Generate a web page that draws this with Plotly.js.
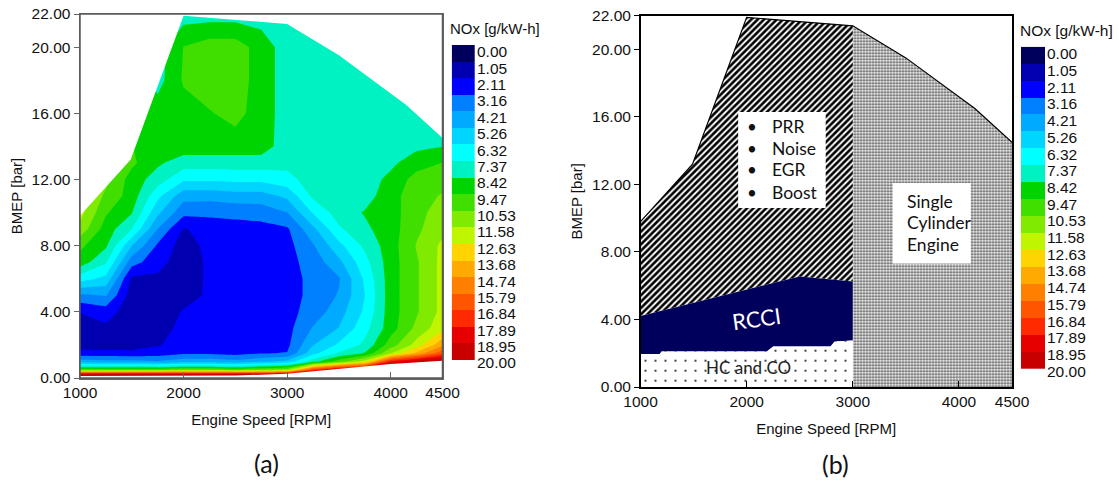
<!DOCTYPE html>
<html><head><meta charset="utf-8">
<script src="https://cdn.plot.ly/plotly-3.0.1.min.js"></script>
<style>html,body{margin:0;padding:0;background:#fff;}#chart{width:1119px;height:483px;}</style>
</head><body><div id="chart"></div>
<script>
// ---------------- data ----------------
const noxLevels = [0.00,1.05,2.11,3.16,4.21,5.26,6.32,7.37,8.42,9.47,10.53,11.58,12.63,13.68,14.74,15.79,16.84,17.89,18.95,20.00];
const bandColors = ['#00005C','#0000B0','#0000FF','#0080FF','#00AAFF','#00D5FF','#00FFFF','#00F2C2','#00D400','#40DF00','#80EA00','#C0F500','#FFD400','#FFAA00','#FF8000','#FF5500','#FF2A00','#E60000','#C80000'];

const rpmGrid  = [1000,1250,1500,1750,2000,2250,2500,2750,3000,3250,3500,3750,4000,4250,4500];
const bmepGrid = [0,0.25,0.5,1,1.5,2,3,4,5,6,7,8,9,10,11,12,13,14,16,18,20,22];
const noxGrid = [
  [24,24,24,24,24,24,24,24,24,24,24,24,24,24,24],
  [18.5,18.5,18.5,18.5,18.5,18.5,18.5,18.5,19,21,22,22,22,22,22],
  [10,10,10,10,10.5,10.5,10,10.5,11,17,19.5,20.5,21,21,21],
  [4.7,4.5,4.5,4.3,4.8,4.8,4.5,5.0,5.5,8.0,10,12,18,19.5,20.5],
  [2.5,2.5,2.4,2.6,3.0,3.0,2.8,3.1,3.2,6.0,7.5,8.5,11.5,14,16.5],
  [1.6,1.5,1.6,2.0,2.6,2.7,2.5,2.7,2.9,5.2,6.5,7.6,10.0,12,14.5],
  [1.5,1.9,1.5,1.5,2.5,2.6,2.5,2.6,2.8,4.3,5.3,7.0,9.0,10.8,12.3],
  [2.15,2.6,1.5,1.4,2.2,2.4,2.5,2.6,2.8,3.6,4.8,6.5,9.0,10.4,11.9],
  [4.0,4.3,1.6,1.5,1.6,2.3,2.5,2.6,2.8,3.4,4.3,6.3,9.0,10.4,11.9],
  [6.8,6.0,1.9,1.9,1.5,2.3,2.5,2.6,2.8,3.4,4.1,6.5,9.0,10.4,11.9],
  [9.0,7.5,3.6,2.5,1.5,2.3,2.5,2.6,2.8,3.6,5.0,7.0,9.0,10.4,11.9],
  [9.7,8.6,5.3,3.0,1.6,2.4,2.5,2.6,2.8,4.1,6.0,7.6,9.0,10.6,11.8],
  [11.2,9.0,7.4,4.2,2.0,2.6,2.7,2.8,3.0,5.0,7.2,8.2,9.0,10.3,11.3],
  [12,9.6,8.5,5.5,3.5,3.4,3.5,3.6,4.2,6.4,7.9,8.5,9.0,10.2,11.0],
  [12,10.3,9.0,6.6,4.6,4.6,4.8,4.8,5.5,7.6,7.9,8.0,9.0,10.2,10.6],
  [11.5,10.8,9.0,7.9,6.5,6.5,6.6,6.6,7.0,7.9,7.9,7.9,8.7,9.9,10.2],
  [11,10.5,9.7,8.6,7.9,7.9,7.9,7.9,7.7,7.9,7.9,7.9,8.2,9.0,9.5],
  [11,10.5,9.5,9.0,9.0,9.0,9.0,9.0,7.8,7.9,7.9,7.9,7.9,8.2,8.4],
  [11,11,9.5,9.0,9.0,9.4,9.8,9.0,7.9,7.9,7.9,7.9,7.9,7.9,7.9],
  [11,11,9.5,8.0,9.6,10.0,10.0,9.0,7.9,7.9,7.9,7.9,7.9,7.9,7.9],
  [11,11,9.5,7.9,9.5,10.0,10.0,9.0,7.9,7.9,7.9,7.9,7.9,7.9,7.9],
  [11,11,9.5,7.9,7.9,7.9,7.9,7.9,7.9,7.9,7.9,7.9,7.9,7.9,7.9]
];

// full-load envelope and minimum-load boundary
const envRpm  = [1000,1490,2000,3000,3500,4150,4500];
const envBmep = [9.8,13.2,21.9,21.4,19.5,16.5,14.5];
const minLoadRpm  = [1000,2000,2500,3000,3500,4000,4500];
const minLoadBmep = [0.12,0.12,0.15,0.25,0.55,0.85,1.05];

// panel (b) region boundaries
const rcciUpperRpm  = [1000,2500,3000];
const rcciUpperBmep = [4.2,6.55,6.25];
const rcciLowerRpm  = [1000,1180,1200,2190,2250,2790,2830,3000];
const rcciLowerBmep = [1.95,1.95,2.1,2.1,2.4,2.4,2.7,2.75];
const splitRpm = 3000;

const xTicks = [1000,2000,3000,4000,4500];
const yTicks = [0,4,8,12,16,20,22];
const limitItems = ['PRR','Noise','EGR','Boost'];
const engineLines = ['Single','Cylinder','Engine'];

// ---------------- helpers ----------------
const W = 1119, H = 483;
const px = v => v / W;
const py = v => 1 - v / H;
const rpmMin = 1000, rpmMax = 4500, bmepMin = 0, bmepMax = 22;
const nBands = bandColors.length;
const zMax = noxLevels[noxLevels.length - 1];
const cs = zMax / nBands;

const contourScale = [[0, bandColors[0]]];
bandColors.forEach((c, k) => contourScale.push([(k + 1) / (nBands + 1), c]));
contourScale.push([1, bandColors[nBands - 1]]);
const stepScale = [];
bandColors.forEach((c, k) => { stepScale.push([k / nBands, c]); stepScale.push([(k + 1) / nBands, c]); });

const tickFont = {family: 'Liberation Sans, Arial, sans-serif', size: 15.5, color: '#111'};
const titleFont = {family: 'Liberation Sans, Arial, sans-serif', size: 15, color: '#111'};
const calFont = (s, c) => ({family: 'Lato, Open Sans, sans-serif', size: s, color: c || '#111'});

const envLow = envRpm.map((r, i) => [r, envBmep[i]]).filter(p => p[0] <= splitRpm);
const envHigh = envRpm.map((r, i) => [r, envBmep[i]]).filter(p => p[0] >= splitRpm);

const traces = [];
// ---- panel (a)
traces.push({type: 'contour', x: rpmGrid, y: bmepGrid, z: noxGrid, xaxis: 'x', yaxis: 'y',
  autocontour: false, contours: {start: 0, end: zMax, size: cs, coloring: 'fill', showlines: false},
  line: {width: 0, smoothing: 0}, colorscale: contourScale, showscale: false, hoverinfo: 'skip'});
traces.push({type: 'scatter', mode: 'lines', x: envRpm, y: envBmep, xaxis: 'x', yaxis: 'y', line: {width: 0}, hoverinfo: 'skip'});
traces.push({type: 'scatter', mode: 'lines', x: envRpm, y: envRpm.map(() => bmepMax), xaxis: 'x', yaxis: 'y',
  fill: 'tonexty', fillcolor: '#ffffff', line: {width: 0}, hoverinfo: 'skip'});
traces.push({type: 'scatter', mode: 'lines', x: minLoadRpm, y: minLoadBmep, xaxis: 'x', yaxis: 'y', line: {width: 0}, hoverinfo: 'skip'});
traces.push({type: 'scatter', mode: 'lines', x: minLoadRpm, y: minLoadRpm.map(() => bmepMin), xaxis: 'x', yaxis: 'y',
  fill: 'tonexty', fillcolor: '#ffffff', line: {width: 0}, hoverinfo: 'skip'});

// ---- panel (b)
traces.push({type: 'scatter', mode: 'lines', xaxis: 'x2', yaxis: 'y2', hoverinfo: 'skip',
  x: [splitRpm, rpmMax].concat(envHigh.slice().reverse().map(p => p[0])),
  y: [bmepMin, bmepMin].concat(envHigh.slice().reverse().map(p => p[1])),
  fill: 'toself', line: {width: 0}, fillcolor: '#e0e0e0',
  fillpattern: {shape: '.', size: 3, solidity: 0.38, fgcolor: '#333333', bgcolor: '#f0f0f0'}});
traces.push({type: 'scatter', mode: 'lines', xaxis: 'x2', yaxis: 'y2', hoverinfo: 'skip',
  x: rcciUpperRpm.concat(envLow.slice().reverse().map(p => p[0])),
  y: rcciUpperBmep.concat(envLow.slice().reverse().map(p => p[1])),
  fill: 'toself', line: {width: 0}, fillcolor: '#777',
  fillpattern: {shape: '/', size: 4.5, solidity: 0.58, fgcolor: '#000000', bgcolor: '#ffffff'}});
traces.push({type: 'scatter', mode: 'lines', xaxis: 'x2', yaxis: 'y2', hoverinfo: 'skip',
  x: rcciLowerRpm.concat(rcciUpperRpm.slice().reverse()),
  y: rcciLowerBmep.concat(rcciUpperBmep.slice().reverse()),
  fill: 'toself', line: {width: 0}, fillcolor: bandColors[0]});
traces.push({type: 'scatter', mode: 'lines', xaxis: 'x2', yaxis: 'y2', hoverinfo: 'skip',
  x: [rpmMin, splitRpm].concat(rcciLowerRpm.slice().reverse()),
  y: [bmepMin, bmepMin].concat(rcciLowerBmep.slice().reverse()),
  fill: 'toself', line: {width: 0}, fillcolor: '#fff',
  fillpattern: {shape: '.', size: 10, solidity: 0.03, fgcolor: '#000000', bgcolor: '#ffffff'}});
traces.push({type: 'scatter', mode: 'lines', x: envRpm, y: envBmep, xaxis: 'x2', yaxis: 'y2',
  line: {color: '#000', width: 1.2}, hoverinfo: 'skip'});

// ---- legend bars
const bandIdx = bandColors.map((c, k) => k);
const bandMid = bandColors.map((c, k) => [noxLevels[k] + cs / 2]);
['3', '4'].forEach(n => {
  traces.push({type: 'heatmap', x: [0], y: bandIdx, z: bandMid, zmin: 0, zmax: zMax,
    colorscale: stepScale, showscale: false, xaxis: 'x' + n, yaxis: 'y' + n, hoverinfo: 'skip'});
});

// ---------------- layout ----------------
const labelStep = 0.987, labelOff = -0.08;
const legendAxis = (top, bandPx) => {
  const lo = -0.5, hi = 19.2;
  const bottom = top + (hi - lo) * bandPx;
  return {domain: [py(bottom), py(top)], range: [hi, lo], side: 'right', showgrid: false, zeroline: false,
    showline: false, ticks: '', tickvals: noxLevels.map((v, i) => labelOff + i * labelStep),
    ticktext: noxLevels.map(v => v.toFixed(2)), tickfont: tickFont, ticklabelstandoff: 1};
};
const xAx = (l, r, col, standoff) => ({domain: [px(l), px(r)], range: [rpmMin, rpmMax], tickvals: xTicks,
  ticktext: xTicks.map(String), ticks: 'inside', ticklen: 6, tickcolor: col, showline: true, mirror: true,
  linecolor: col, linewidth: 1.5, showgrid: false, zeroline: false, tickfont: tickFont,
  title: {text: 'Engine Speed [RPM]', font: titleFont, standoff: standoff}});
const yAx = (t, b, col, standoff) => ({domain: [py(b), py(t)], range: [bmepMin, bmepMax], tickvals: yTicks,
  ticktext: yTicks.map(v => v.toFixed(2)), ticks: 'outside', ticklen: 5, tickcolor: col, showline: true, mirror: true,
  linecolor: col, linewidth: 1.5, showgrid: false, zeroline: false, tickfont: tickFont,
  title: {text: 'BMEP [bar]', font: titleFont, standoff: standoff}});

const frameA = {l: 80, r: 442.5, t: 14, b: 378};
const layout = {
  width: W, height: H, margin: {l: 0, r: 0, t: 0, b: 0}, paper_bgcolor: '#fff', plot_bgcolor: '#fff', showlegend: false,
  xaxis: Object.assign(xAx(frameA.l, frameA.r, '#666', 14), {anchor: 'y'}),
  yaxis: Object.assign(yAx(frameA.t, frameA.b, '#666', 5), {anchor: 'x'}),
  xaxis2: Object.assign(xAx(640.5, 1012, '#000', 14), {anchor: 'y2'}),
  yaxis2: Object.assign(yAx(15.7, 387, '#000', 6), {anchor: 'x2'}),
  xaxis3: {domain: [px(451.7), px(475)], range: [-0.5, 0.5], visible: false, anchor: 'y3'},
  yaxis3: Object.assign(legendAxis(45, 16.58), {anchor: 'x3'}),
  xaxis4: {domain: [px(1021), px(1045)], range: [-0.5, 0.5], visible: false, anchor: 'y4'},
  yaxis4: Object.assign(legendAxis(46.7, 16.93), {anchor: 'x4'}),
  shapes: [
    {type: 'rect', xref: 'x2', yref: 'y2', x0: 1920, x1: 2745, y0: 10.6, y1: 16.3, fillcolor: '#fff', line: {width: 0}, layer: 'above'},
    {type: 'rect', xref: 'x2', yref: 'y2', x0: 3377, x1: 4112, y0: 7.32, y1: 12.09, fillcolor: '#fff', line: {width: 0}, layer: 'above'},
    {type: 'rect', xref: 'paper', yref: 'paper', x0: px(frameA.l), x1: px(frameA.r), y0: py(frameA.b), y1: py(frameA.t),
      line: {color: '#5a5a5a', width: 1.5}, fillcolor: 'rgba(0,0,0,0)', layer: 'above'}
  ],
  annotations: []
};
const ann = layout.annotations;
ann.push({xref: 'paper', yref: 'paper', x: px(448), y: py(28), xanchor: 'left', yanchor: 'middle', showarrow: false,
  text: 'NOx [g/kW-h]', font: {family: tickFont.family, size: 15, color: '#111'}});
ann.push({xref: 'paper', yref: 'paper', x: px(1018), y: py(30), xanchor: 'left', yanchor: 'middle', showarrow: false,
  text: 'NOx [g/kW-h]', font: {family: tickFont.family, size: 15.5, color: '#111'}});
ann.push({xref: 'paper', yref: 'paper', x: px(266.7), y: py(463), xanchor: 'center', yanchor: 'middle', showarrow: false,
  text: '(a)', font: calFont(25)});
ann.push({xref: 'paper', yref: 'paper', x: px(835.5), y: py(464), xanchor: 'center', yanchor: 'middle', showarrow: false,
  text: '(b)', font: calFont(25)});
const itemY = [15.42, 14.14, 12.86, 11.51];
limitItems.forEach((t, i) => {
  ann.push({xref: 'x2', yref: 'y2', x: 2048, y: itemY[i], xanchor: 'center', yanchor: 'middle', showarrow: false, text: '•', font: calFont(17)});
  ann.push({xref: 'x2', yref: 'y2', x: 2220, y: itemY[i], xanchor: 'left', yanchor: 'middle', showarrow: false, text: t, font: calFont(17.5)});
});
const engY = [10.98, 9.73, 8.47];
engineLines.forEach((t, i) => {
  ann.push({xref: 'x2', yref: 'y2', x: 3492, y: engY[i], xanchor: 'left', yanchor: 'middle', showarrow: false, text: t, font: calFont(17.5)});
});
ann.push({xref: 'x2', yref: 'y2', x: 2095, y: 4.07, xanchor: 'center', yanchor: 'middle', showarrow: false, text: 'RCCI', textangle: -8, font: calFont(22, '#fff')});
ann.push({xref: 'x2', yref: 'y2', x: 2016, y: 1.17, xanchor: 'center', yanchor: 'middle', showarrow: false, text: 'HC and CO', font: calFont(17, '#222')});

Plotly.newPlot('chart', traces, layout, {displayModeBar: false, staticPlot: true});
</script>
</body></html>
